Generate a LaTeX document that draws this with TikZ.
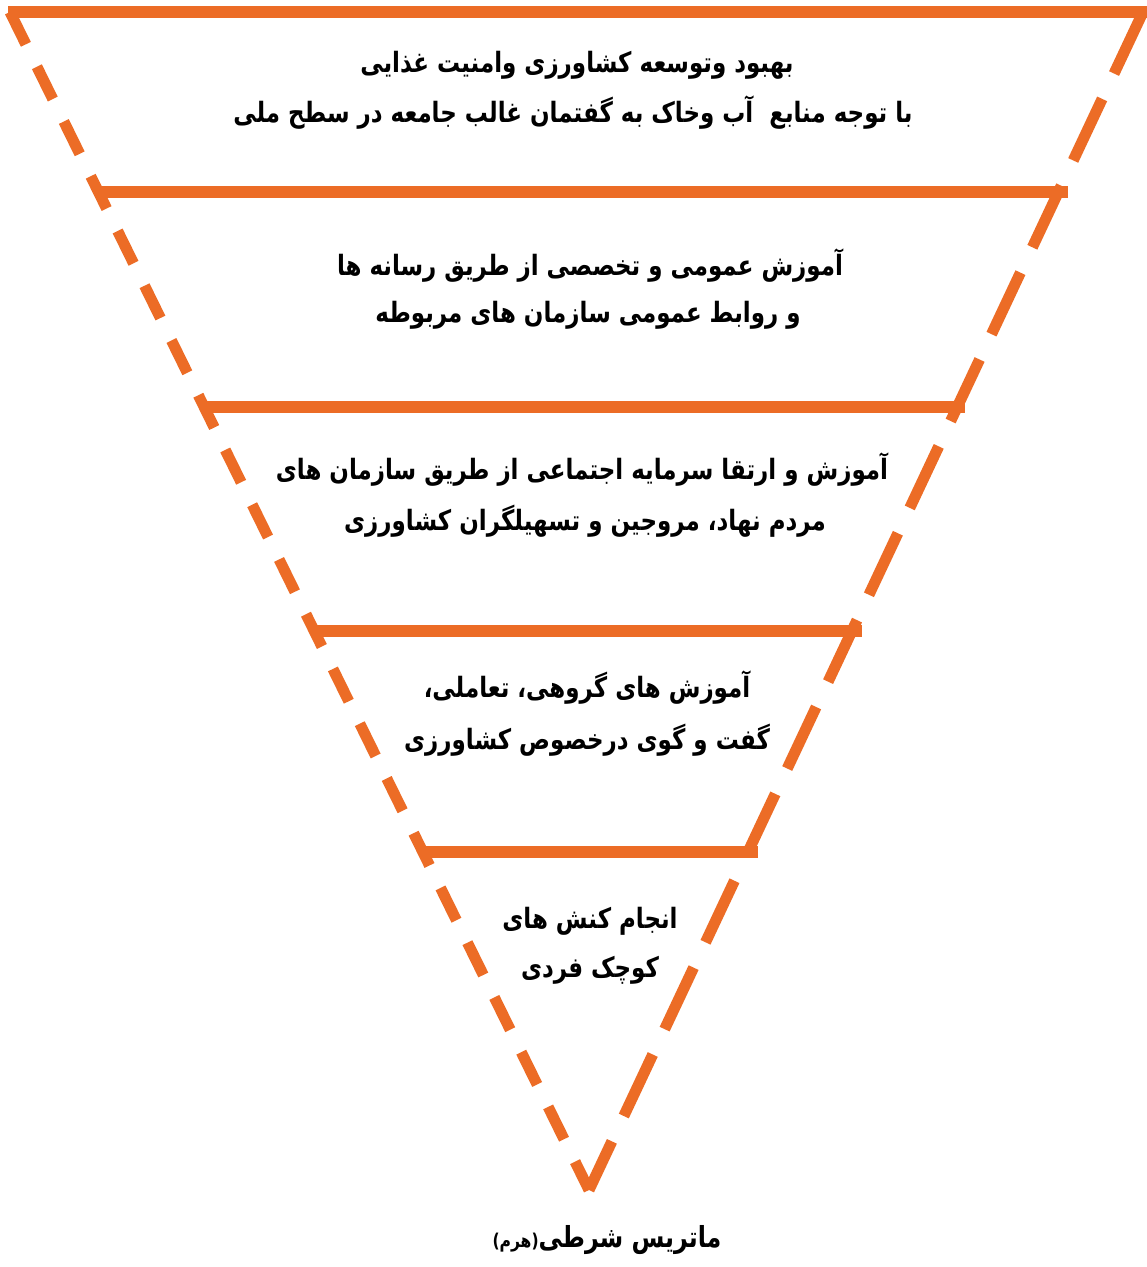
\documentclass[tikz,border=0pt]{standalone}
\usepackage{graphicx}
\usepackage{fontspec}
\TeXXeTstate=1
\newfontfamily\fa[Script=Arabic]{DejaVu Sans}
\definecolor{pyr}{RGB}{236,108,38}
\newcommand\fatxt[1]{\scalebox{0.82}[1]{\beginR #1\endR}}
\begin{document}
\begin{tikzpicture}[x=1pt,y=-1pt,
  edge/.style={draw=pyr,line width=11pt},
  hedge/.style={draw=pyr,line width=12.5pt},
  lside/.style={edge,dash pattern=on 36pt off 25pt},
  rside/.style={edge,dash pattern=on 68pt off 28pt},
  txt/.style={font=\fa\bfseries\fontsize{28}{28}\selectfont,text=black,inner sep=0pt,anchor=center}]
\useasboundingbox (0,0) rectangle (1147,1267);
\fill[white] (0,0) rectangle (1147,1267);
% corners
\coordinate (tl) at (10,12);
\coordinate (tr) at (1143,12);
\coordinate (tip) at (589,1190);
% sides
\draw[lside] (tl) -- (tip);
\draw[rside] (tr) -- (tip);
% horizontal lines
\coordinate (h0a) at (8,12);   \coordinate (h0b) at (1147,12);
\coordinate (h1a) at (100,192); \coordinate (h1b) at (1068,192);
\coordinate (h2a) at (203,407); \coordinate (h2b) at (965,407);
\coordinate (h3a) at (313,631); \coordinate (h3b) at (862,631);
\coordinate (h4a) at (422,852); \coordinate (h4b) at (758,852);
\draw[hedge] (h0a) -- (h0b);
\draw[hedge] (h1a) -- (h1b);
\draw[hedge] (h2a) -- (h2b);
\draw[hedge] (h3a) -- (h3b);
\draw[hedge] (h4a) -- (h4b);
% texts
\node[txt] (t1a) at (577,65) {\fatxt{بهبود وتوسعه کشاورزی وامنیت غذایی}};
\node[txt] (t1b) at (573,113) {\fatxt{با توجه منابع~ آب وخاک به گفتمان غالب جامعه در سطح ملی}};
\node[txt] (t2a) at (590,266) {\fatxt{آموزش عمومی و تخصصی از طریق رسانه ها}};
\node[txt] (t2b) at (588,315) {\fatxt{و روابط عمومی سازمان های مربوطه}};
\node[txt] (t3a) at (582,470) {\fatxt{آموزش و ارتقا سرمایه اجتماعی از طریق سازمان های}};
\node[txt] (t3b) at (585,521) {\fatxt{مردم نهاد، مروجین و تسهیلگران کشاورزی}};
\node[txt] (t4a) at (587,688) {\fatxt{آموزش های گروهی، تعاملی،}};
\node[txt] (t4b) at (587,740) {\fatxt{گفت و گوی درخصوص کشاورزی}};
\node[txt] (t5a) at (590,921) {\fatxt{انجام کنش های}};
\node[txt] (t5b) at (590,970) {\fatxt{کوچک فردی}};
\node[txt] (title) at (607,1240) {\fatxt{{\fontsize{29}{29}\selectfont ماتریس شرطی}{\fontsize{19}{19}\selectfont(هرم)}}};
\end{tikzpicture}
\end{document}
